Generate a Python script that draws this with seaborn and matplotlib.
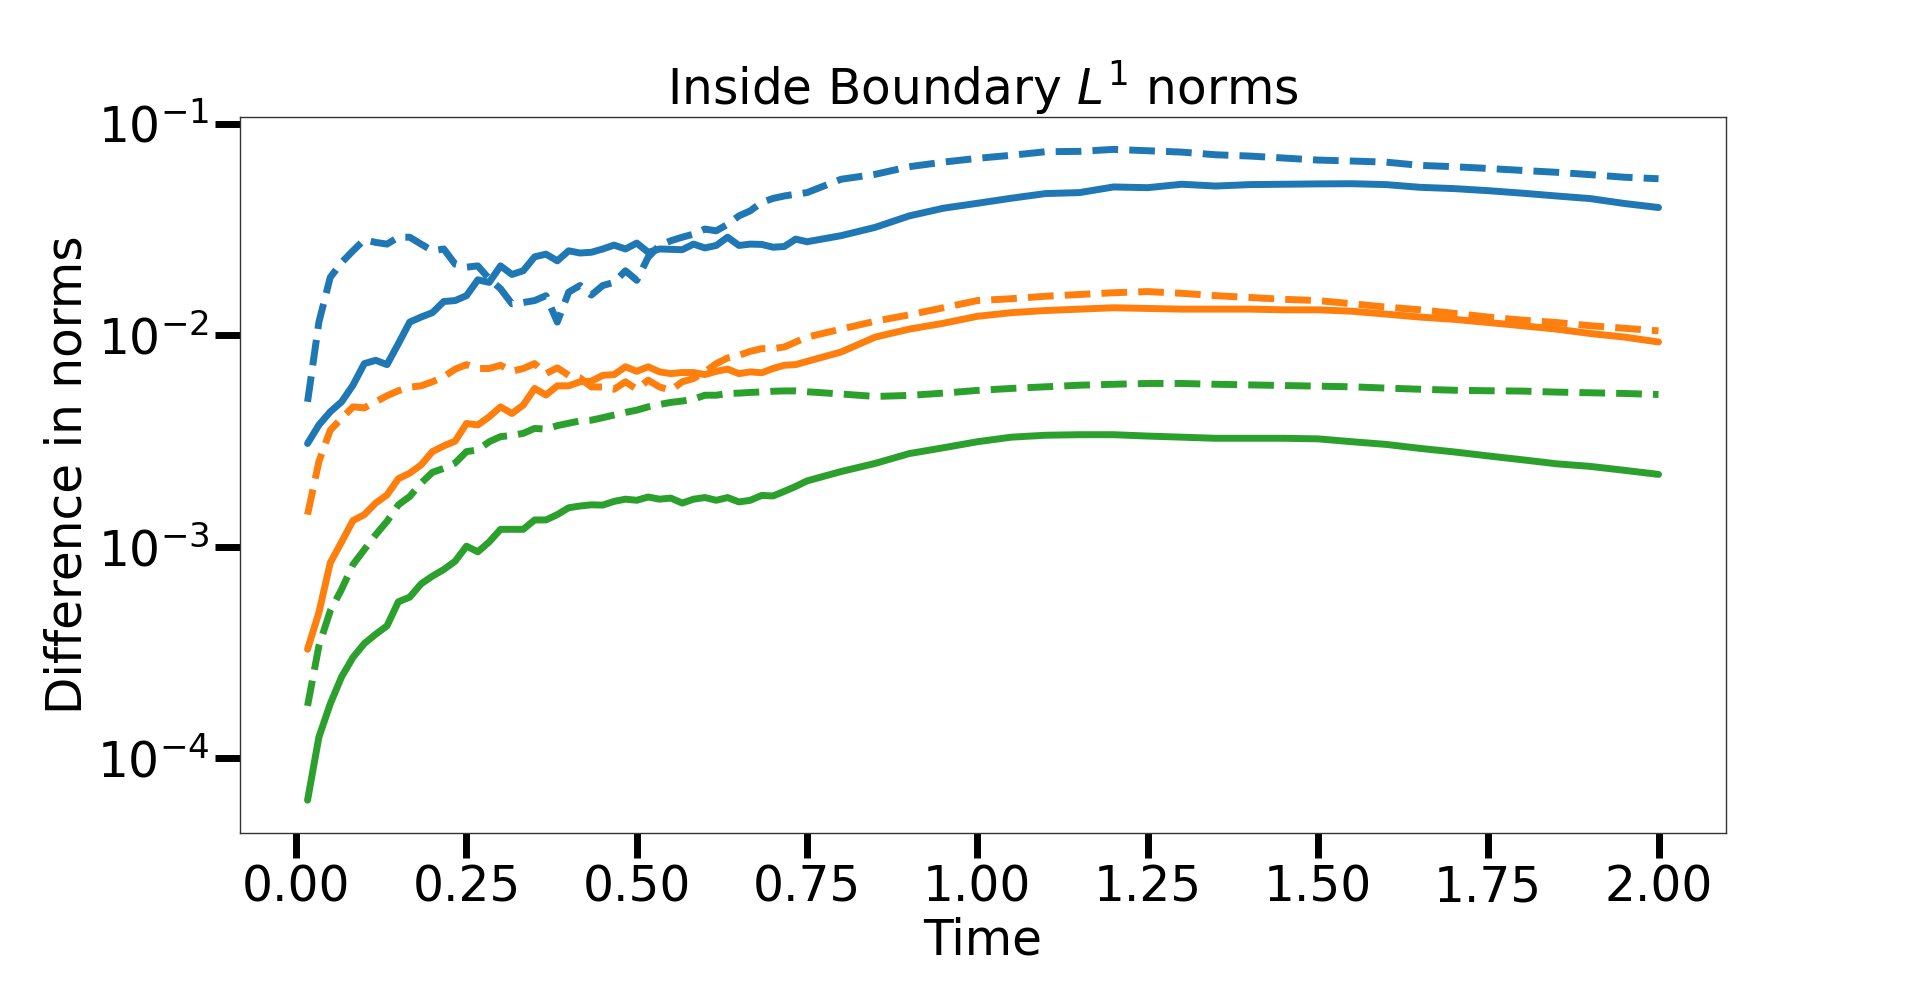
import numpy as np
import pandas as pd
import matplotlib as mpl
mpl.use('Agg')
import matplotlib.pyplot as plt
import seaborn as sns

# time grid: every 1/60 up to 0.733, then every 0.05 up to 2.0
time = np.r_[np.arange(1, 45) / 60, np.arange(0.75, 2.0001, 0.05)]

# blue pair
blue_solid = [3.08e-3, 3.77e-3, 4.35e-3, 4.85e-3, 5.81e-3, 7.35e-3, 7.62e-3, 7.27e-3, 9.13e-3, 1.155e-2,
              1.22e-2, 1.28e-2, 1.445e-2, 1.46e-2, 1.54e-2, 1.83e-2, 1.78e-2, 2.13e-2, 1.94e-2, 2.02e-2,
              2.35e-2, 2.42e-2, 2.25e-2, 2.51e-2, 2.45e-2, 2.47e-2, 2.56e-2, 2.67e-2, 2.56e-2, 2.73e-2,
              2.47e-2, 2.56e-2, 2.55e-2, 2.54e-2, 2.70e-2, 2.59e-2, 2.66e-2, 2.91e-2, 2.66e-2, 2.70e-2,
              2.69e-2, 2.61e-2, 2.63e-2, 2.85e-2,
              2.77e-2, 2.96e-2, 3.24e-2, 3.67e-2, 3.99e-2, 4.21e-2, 4.45e-2, 4.68e-2, 4.73e-2, 5.03e-2,
              4.99e-2, 5.18e-2, 5.08e-2, 5.16e-2, 5.18e-2, 5.20e-2, 5.21e-2, 5.16e-2, 5.01e-2, 4.94e-2,
              4.83e-2, 4.70e-2, 4.56e-2, 4.43e-2, 4.20e-2, 4.02e-2]
blue_dashed = [4.85e-3, 1.155e-2, 1.88e-2, 2.21e-2, 2.51e-2, 2.83e-2, 2.75e-2, 2.70e-2, 2.91e-2, 2.91e-2,
               2.70e-2, 2.51e-2, 2.56e-2, 2.17e-2, 2.10e-2, 2.13e-2, 1.85e-2, 1.66e-2, 1.41e-2, 1.43e-2,
               1.46e-2, 1.54e-2, 1.155e-2, 1.60e-2, 1.72e-2, 1.55e-2, 1.72e-2, 1.78e-2, 2.02e-2, 1.82e-2,
               2.34e-2, 2.66e-2, 2.80e-2, 2.91e-2, 3.01e-2, 3.18e-2, 3.12e-2, 3.35e-2, 3.67e-2, 3.88e-2,
               4.25e-2, 4.44e-2, 4.56e-2, 4.65e-2,
               4.73e-2, 5.47e-2, 5.77e-2, 6.27e-2, 6.59e-2, 6.87e-2, 7.10e-2, 7.38e-2, 7.41e-2, 7.57e-2,
               7.46e-2, 7.35e-2, 7.14e-2, 7.04e-2, 6.89e-2, 6.74e-2, 6.67e-2, 6.59e-2, 6.36e-2, 6.27e-2,
               6.15e-2, 6.02e-2, 5.90e-2, 5.75e-2, 5.59e-2, 5.50e-2]

# orange pair
orange_solid = [3.28e-4, 4.89e-4, 8.40e-4, 1.055e-3, 1.33e-3, 1.42e-3, 1.61e-3, 1.76e-3, 2.10e-3, 2.23e-3,
                2.44e-3, 2.82e-3, 3.00e-3, 3.16e-3, 3.83e-3, 3.77e-3, 4.12e-3, 4.59e-3, 4.27e-3, 4.68e-3,
                5.61e-3, 5.22e-3, 5.77e-3, 5.77e-3, 6.03e-3, 6.07e-3, 6.47e-3, 6.52e-3, 7.10e-3, 6.76e-3,
                7.10e-3, 6.72e-3, 6.59e-3, 6.67e-3, 6.67e-3, 6.52e-3, 6.76e-3, 6.92e-3, 6.59e-3, 6.72e-3,
                6.65e-3, 6.97e-3, 7.22e-3, 7.27e-3,
                7.53e-3, 8.34e-3, 9.81e-3, 1.07e-2, 1.14e-2, 1.23e-2, 1.28e-2, 1.31e-2, 1.33e-2, 1.35e-2,
                1.34e-2, 1.33e-2, 1.33e-2, 1.33e-2, 1.32e-2, 1.32e-2, 1.30e-2, 1.26e-2, 1.22e-2, 1.19e-2,
                1.15e-2, 1.11e-2, 1.07e-2, 1.02e-2, 9.81e-3, 9.30e-3]
orange_dashed = [1.42e-3, 2.53e-3, 3.56e-3, 4.05e-3, 4.59e-3, 4.54e-3, 4.85e-3, 5.18e-3, 5.47e-3, 5.69e-3,
                 5.77e-3, 6.03e-3, 6.37e-3, 6.92e-3, 7.27e-3, 6.97e-3, 6.97e-3, 7.22e-3, 6.76e-3, 6.97e-3,
                 7.35e-3, 6.59e-3, 7.02e-3, 6.47e-3, 6.29e-3, 5.70e-3, 5.70e-3, 5.56e-3, 6.03e-3, 5.56e-3,
                 6.14e-3, 5.70e-3, 5.50e-3, 6.03e-3, 6.25e-3, 6.72e-3, 7.35e-3, 7.82e-3, 8.05e-3, 8.40e-3,
                 8.65e-3, 8.65e-3, 8.81e-3, 9.30e-3,
                 9.81e-3, 1.07e-2, 1.166e-2, 1.25e-2, 1.35e-2, 1.46e-2, 1.49e-2, 1.53e-2, 1.56e-2, 1.59e-2,
                 1.61e-2, 1.58e-2, 1.54e-2, 1.51e-2, 1.48e-2, 1.46e-2, 1.41e-2, 1.36e-2, 1.32e-2, 1.27e-2,
                 1.22e-2, 1.18e-2, 1.15e-2, 1.11e-2, 1.08e-2, 1.05e-2]

# green pair
green_solid = [6.34e-5, 1.26e-4, 1.81e-4, 2.43e-4, 3.00e-4, 3.49e-4, 3.86e-4, 4.23e-4, 5.50e-4, 5.78e-4,
               6.68e-4, 7.27e-4, 7.81e-4, 8.55e-4, 1.007e-3, 9.47e-4, 1.055e-3, 1.21e-3, 1.21e-3, 1.21e-3,
               1.34e-3, 1.34e-3, 1.42e-3, 1.53e-3, 1.56e-3, 1.58e-3, 1.575e-3, 1.64e-3, 1.68e-3, 1.66e-3,
               1.72e-3, 1.68e-3, 1.70e-3, 1.61e-3, 1.68e-3, 1.71e-3, 1.66e-3, 1.71e-3, 1.63e-3, 1.66e-3,
               1.75e-3, 1.74e-3, 1.83e-3, 1.93e-3,
               2.05e-3, 2.27e-3, 2.48e-3, 2.76e-3, 2.94e-3, 3.14e-3, 3.30e-3, 3.37e-3, 3.39e-3, 3.39e-3,
               3.34e-3, 3.30e-3, 3.26e-3, 3.26e-3, 3.26e-3, 3.24e-3, 3.14e-3, 3.05e-3, 2.92e-3, 2.81e-3,
               2.69e-3, 2.58e-3, 2.47e-3, 2.40e-3, 2.30e-3, 2.20e-3]
green_dashed = [1.77e-4, 3.40e-4, 4.98e-4, 6.30e-4, 8.24e-4, 9.70e-4, 1.14e-3, 1.32e-3, 1.58e-3, 1.73e-3,
                2.00e-3, 2.25e-3, 2.35e-3, 2.49e-3, 2.82e-3, 2.87e-3, 3.14e-3, 3.32e-3, 3.36e-3, 3.44e-3,
                3.63e-3, 3.60e-3, 3.74e-3, 3.84e-3, 3.94e-3, 3.97e-3, 4.08e-3, 4.20e-3, 4.32e-3, 4.43e-3,
                4.59e-3, 4.71e-3, 4.82e-3, 4.89e-3, 4.99e-3, 5.21e-3, 5.21e-3, 5.31e-3, 5.33e-3, 5.37e-3,
                5.40e-3, 5.44e-3, 5.46e-3, 5.46e-3,
                5.41e-3, 5.28e-3, 5.14e-3, 5.20e-3, 5.33e-3, 5.49e-3, 5.61e-3, 5.71e-3, 5.81e-3, 5.87e-3,
                5.92e-3, 5.92e-3, 5.87e-3, 5.83e-3, 5.79e-3, 5.75e-3, 5.71e-3, 5.63e-3, 5.56e-3, 5.50e-3,
                5.47e-3, 5.45e-3, 5.39e-3, 5.35e-3, 5.31e-3, 5.25e-3]

series = {
    ("1", "solid"): blue_solid, ("1", "dashed"): blue_dashed,
    ("2", "solid"): orange_solid, ("2", "dashed"): orange_dashed,
    ("3", "solid"): green_solid, ("3", "dashed"): green_dashed,
}
frames = []
for (run, kind), vals in series.items():
    frames.append(pd.DataFrame({"time": time, "diff": vals, "run": run, "kind": kind}))
df = pd.concat(frames, ignore_index=True)

sns.set_style("ticks")
plt.rcParams['font.family'] = ['DejaVu Sans']
plt.rcParams['text.color'] = 'black'
plt.rcParams['axes.labelcolor'] = 'black'
plt.rcParams['xtick.color'] = 'black'
plt.rcParams['ytick.color'] = 'black'

fig = plt.figure(figsize=(19.2, 9.82), dpi=100)
ax = fig.add_axes([0.125, 0.152, 0.774, 0.729])

sns.lineplot(data=df, x="time", y="diff", hue="run", style="kind",
             hue_order=["1", "2", "3"], style_order=["solid", "dashed"],
             palette=sns.color_palette("tab10")[:3],
             dashes={"solid": "", "dashed": (3.7, 1.6)},
             lw=5, estimator=None, legend=False, ax=ax)

ax.set_yscale("log")
ax.yaxis.set_minor_locator(mpl.ticker.NullLocator())
ax.set_title("Inside Boundary $L^1$ norms", fontsize=35, color='black')
ax.set_xlabel("Time", fontsize=35)
ax.set_ylabel("Difference in norms", fontsize=35)
ax.tick_params(axis='both', which='major', length=18, width=5, labelsize=35,
               color='black', labelcolor='black', direction='out', pad=4)
for s in ax.spines.values():
    s.set_linewidth(1.0)
    s.set_color('0.2')

fig.savefig("out.png", dpi=100)
